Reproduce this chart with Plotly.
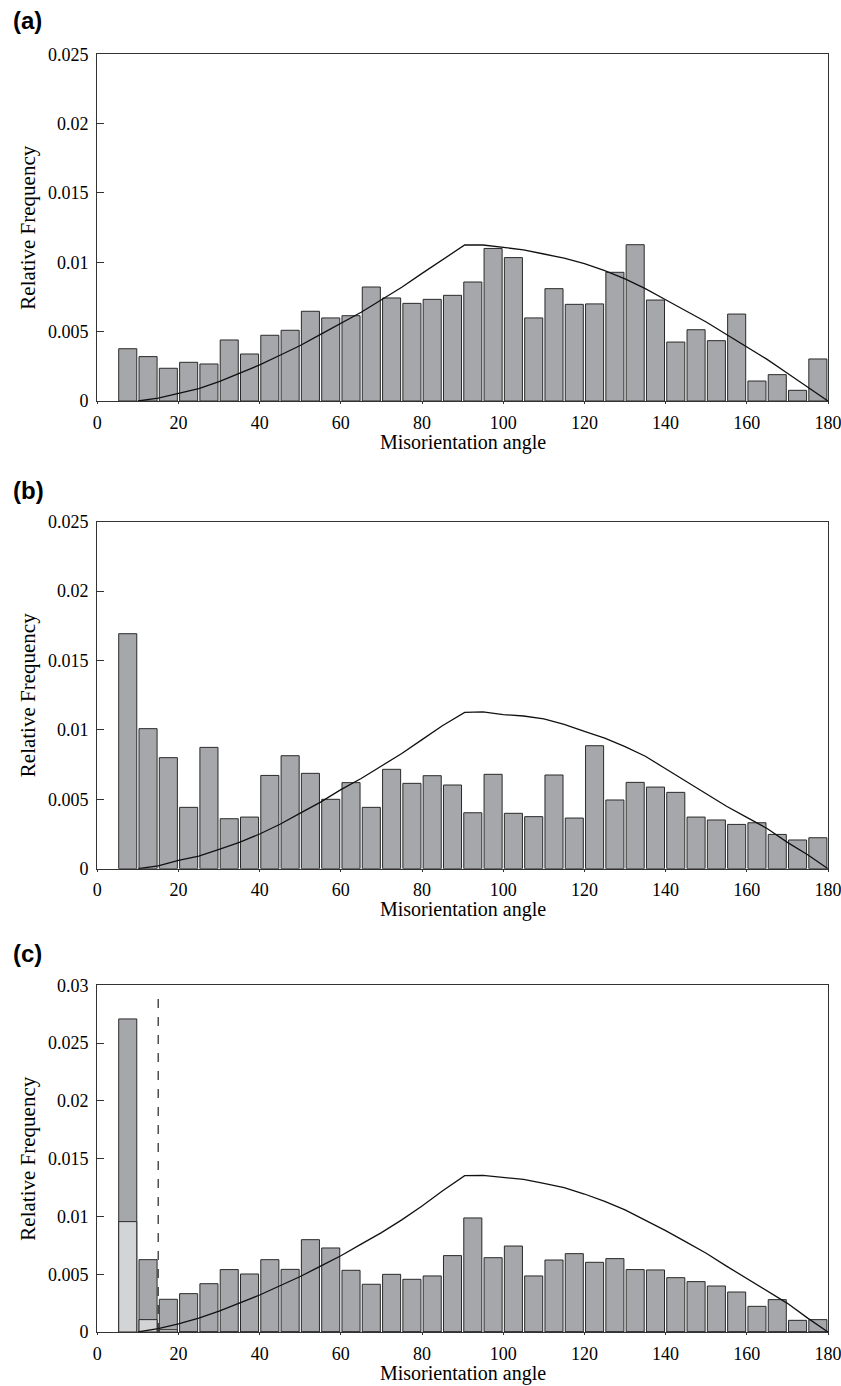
import plotly.graph_objects as go

# ---------------- data ----------------
bin_centers = [7.5 + 5 * i for i in range(35)]

freq_a = [0.00377, 0.0032, 0.00236, 0.00279, 0.00267, 0.0044, 0.00339, 0.00474, 0.0051,
          0.00647, 0.00599, 0.00615, 0.00822, 0.00743, 0.00704, 0.00733, 0.00762, 0.00858,
          0.0110, 0.01034, 0.00599, 0.0081, 0.00697, 0.0070, 0.00928, 0.01127, 0.00728,
          0.00425, 0.00514, 0.00435, 0.00627, 0.00144, 0.0019, 0.00077, 0.00303]

freq_b = [0.01693, 0.01009, 0.0080, 0.00442, 0.00874, 0.0036, 0.00372, 0.00672, 0.00814,
          0.00687, 0.0050, 0.0062, 0.00442, 0.00716, 0.00615, 0.0067, 0.00603, 0.00403,
          0.0068, 0.00399, 0.00375, 0.00675, 0.00365, 0.00886, 0.00495, 0.00622, 0.00588,
          0.0055, 0.00372, 0.00351, 0.00319, 0.00331, 0.00247, 0.00207, 0.00223]

freq_c = [0.02709, 0.00626, 0.00283, 0.00332, 0.00418, 0.0054, 0.00502, 0.00626, 0.00542,
          0.00799, 0.00727, 0.00534, 0.00413, 0.00499, 0.00456, 0.00485, 0.00661, 0.00987,
          0.00643, 0.00744, 0.00485, 0.00623, 0.00678, 0.00603, 0.00635, 0.0054, 0.00537,
          0.0047, 0.00436, 0.00398, 0.00346, 0.00222, 0.0028, 0.00101, 0.00107]

low_c = [0.00955, 0.00107, 0.0002] + [0.0] * 32

curve_x = [10, 15, 20, 25, 30, 35, 40, 45, 50, 55, 60, 65, 70, 75, 80, 85, 90.5,
           95, 100, 105, 110, 115, 120, 125, 130, 135, 140, 145, 150, 155, 160, 165, 170, 175, 180]

curve_a = [0.0, 0.0002, 0.00055, 0.0009, 0.0014, 0.002, 0.0026, 0.0033, 0.004, 0.0048, 0.0056,
           0.0064, 0.0073, 0.0082, 0.0092, 0.0102, 0.01125,
           0.01125, 0.0111, 0.0109, 0.0106, 0.0103, 0.0099, 0.0094, 0.0088, 0.0081, 0.0073,
           0.0065, 0.0057, 0.0048, 0.0039, 0.003, 0.002, 0.001, 0.0]

curve_b = [0.0, 0.0002, 0.0006, 0.0009, 0.0014, 0.0019, 0.0025, 0.0032, 0.004, 0.0048, 0.0057,
           0.0065, 0.0074, 0.0083, 0.0093, 0.0103, 0.01126,
           0.0113, 0.0111, 0.011, 0.0108, 0.0104, 0.0099, 0.0094, 0.0088, 0.0081, 0.0072,
           0.0063, 0.0054, 0.0045, 0.0037, 0.0029, 0.0019, 0.001, 0.0]

curve_c = [0.0, 0.0003, 0.0007, 0.0012, 0.0018, 0.0025, 0.0032, 0.004, 0.0048, 0.0057, 0.0066,
           0.0076, 0.0086, 0.0097, 0.0109, 0.0122, 0.01353,
           0.01355, 0.01336, 0.0132, 0.01287, 0.0125, 0.01194, 0.0113, 0.01056, 0.0097, 0.00877,
           0.0078, 0.00681, 0.0057, 0.00464, 0.0036, 0.00248, 0.0012, 0.0]

cutoff_angle = 15
x_ticks = [0, 20, 40, 60, 80, 100, 120, 140, 160, 180]
y_ticks_ab = [0, 0.005, 0.01, 0.015, 0.02, 0.025]
y_ticks_c = [0, 0.005, 0.01, 0.015, 0.02, 0.025, 0.03]
panel_labels = ["(a)", "(b)", "(c)"]

# ---------------- layout geometry ----------------
W, H = 841, 1386
x_dom = [97.3 / W, 828 / W]
rows = [(54.3, 401), (521.7, 868.7), (985.3, 1332)]
label_y = [20, 490, 953.5]

DARK = "#a6a7aa"
LIGHT = "#d3d4d6"
EDGE = "#2a2a2a"
serif = "Liberation Serif, Times New Roman, serif"

fig = go.Figure()

def add_bars(y, axis_idx, color):
    fig.add_trace(go.Bar(
        x=bin_centers, y=y, width=4.45, marker=dict(color=color, line=dict(color=EDGE, width=1)),
        xaxis="x" if axis_idx == 1 else f"x{axis_idx}",
        yaxis="y" if axis_idx == 1 else f"y{axis_idx}", showlegend=False))

def add_curve(y, axis_idx):
    fig.add_trace(go.Scatter(
        x=curve_x, y=y, mode="lines", line=dict(color="#111111", width=1.3),
        xaxis="x" if axis_idx == 1 else f"x{axis_idx}",
        yaxis="y" if axis_idx == 1 else f"y{axis_idx}", showlegend=False))

add_bars(freq_a, 1, DARK)
add_curve(curve_a, 1)
add_bars(freq_b, 2, DARK)
add_curve(curve_b, 2)
add_bars(freq_c, 3, DARK)
add_bars(low_c, 3, LIGHT)
add_curve(curve_c, 3)

def fmt(v):
    return "0" if v == 0 else ("%g" % v)

layout = dict(width=W, height=H, autosize=False, margin=dict(l=0, r=0, t=0, b=0, autoexpand=False),
              paper_bgcolor="white", plot_bgcolor="white", barmode="overlay",
              font=dict(family=serif, color="black"))

annotations = []
for i, (top, bot) in enumerate(rows, start=1):
    xa = "xaxis" if i == 1 else f"xaxis{i}"
    ya = "yaxis" if i == 1 else f"yaxis{i}"
    yt = y_ticks_c if i == 3 else y_ticks_ab
    layout[xa] = dict(domain=x_dom, range=[0, 180], tickvals=x_ticks,
                      ticktext=[str(t) for t in x_ticks],
                      anchor="y" if i == 1 else f"y{i}", automargin=False,
                      ticklabeloverflow="allow",
                      showline=True, mirror=True, linecolor="#333333", linewidth=1.2,
                      ticks="outside", ticklen=2, tickcolor="#333333", showgrid=False,
                      zeroline=False, tickfont=dict(family=serif, size=18, color="black"),
                      ticklabelstandoff=3)
    layout[ya] = dict(domain=[1 - bot / H, 1 - top / H], range=[0, yt[-1]], tickvals=yt,
                      ticktext=[fmt(t) for t in yt],
                      anchor="x" if i == 1 else f"x{i}", automargin=False,
                      ticklabeloverflow="allow",
                      showline=True, mirror=True, linecolor="#333333", linewidth=1.2,
                      ticks="inside", ticklen=7, tickcolor="#333333", showgrid=False,
                      zeroline=False, tickfont=dict(family=serif, size=18, color="black"),
                      ticklabelstandoff=4)
    annotations.append(dict(text="Misorientation angle", xref="paper", yref="paper",
                            x=(97.3 + 828) / 2 / W, y=1 - (bot + 41) / H, xanchor="center",
                            yanchor="middle", showarrow=False,
                            font=dict(family=serif, size=20, color="black")))
    annotations.append(dict(text="Relative Frequency", xref="paper", yref="paper",
                            x=28 / W, y=1 - (top + bot) / 2 / H, xanchor="center",
                            yanchor="middle", textangle=-90, showarrow=False,
                            font=dict(family=serif, size=21, color="black")))
    annotations.append(dict(text="<b>%s</b>" % panel_labels[i - 1], xref="paper", yref="paper",
                            x=11 / W, y=1 - label_y[i - 1] / H, xanchor="left",
                            yanchor="middle", showarrow=False,
                            font=dict(family="Liberation Sans, Arial, sans-serif", size=24,
                                      color="black")))

layout["annotations"] = annotations
layout["shapes"] = [dict(type="line", xref="x3", yref="y3", x0=cutoff_angle, x1=cutoff_angle,
                         y0=0, y1=0.0296, line=dict(color="#222222", width=1.2, dash="dash"))]

fig.update_layout(**layout)
page_css = ("document.documentElement.style.margin='0';document.documentElement.style.overflow='hidden';"
            "document.body.style.margin='0';document.body.style.padding='0';document.body.style.overflow='hidden';")
fig.write_html("out.html", post_script=page_css, config={"displayModeBar": False})
